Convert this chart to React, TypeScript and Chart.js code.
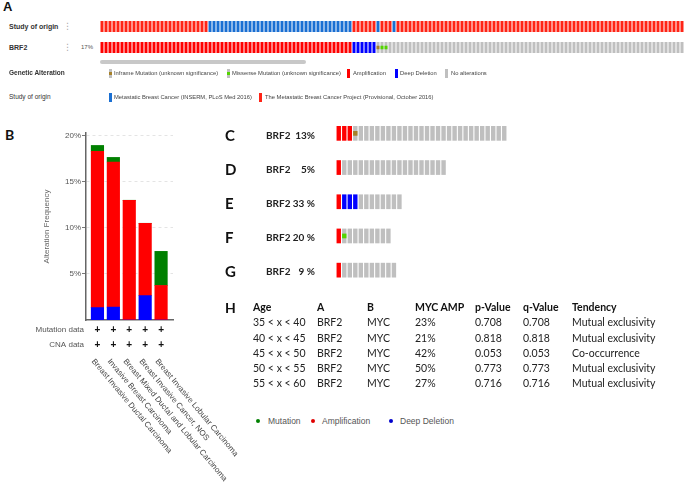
import React, { useEffect, useRef } from 'react';
import { Chart, registerables } from 'chart.js';
Chart.register(...registerables);

// ---------------- Data ----------------
// Panel B: alteration frequency (%) per cancer type
const CANCER_TYPES = [
  'Breast Invasive Ductal Carcinoma',
  'Invasive Breast Carcinoma',
  'Breast Mixed Ductal and Lobular Carcinoma',
  'Breast Invasive Cancer, NOS',
  'Breast Invasive Lobular Carcinoma',
];
const DEEP_DELETION = [1.35, 1.4, 0, 2.65, 0];
const AMPLIFICATION = [16.95, 15.75, 13.0, 7.85, 3.75];
const MUTATION = [0.65, 0.5, 0, 0, 3.7];
const MUTATION_PROFILED = ['+', '+', '+', '+', '+'];
const CNA_PROFILED = ['+', '+', '+', '+', '+'];
const Y_TICK_VALUES = [5, 10, 15, 20];

// Panel A: oncoprint (runs of [type, count])
const STUDY_RUNS: [string, number][] = [
  ['MBCP', 27], ['INSERM', 36], ['MBCP', 6], ['INSERM', 1], ['MBCP', 3], ['INSERM', 1], ['MBCP', 72],
];
const BRF2_RUNS: [string, number][] = [
  ['amp', 63], ['del', 6], ['inframe', 1], ['missense', 2], ['none', 74],
];
const BRF2_ALTERED = '17%';

// Panels C-G
const SUBSET_LETTERS = ['C', 'D', 'E', 'F', 'G'];
const SUBSET_PERCENT = ['13%', '5%', '33 %', '20 %', '9 %'];
const SUBSET_RUNS: [string, number][][] = [
  [['amp', 3], ['inframe', 1], ['none', 27]],
  [['amp', 1], ['none', 19]],
  [['amp', 1], ['del', 3], ['none', 8]],
  [['amp', 1], ['missense', 1], ['none', 8]],
  [['amp', 1], ['none', 10]],
];

// Panel H table
const TABLE_HEADER = ['Age', 'A', 'B', 'MYC AMP', 'p-Value', 'q-Value', 'Tendency'];
const AGE_RANGES = ['35 < x < 40', '40 < x < 45', '45 < x < 50', '50 < x < 55', '55 < x < 60'];
const GENE_A = ['BRF2', 'BRF2', 'BRF2', 'BRF2', 'BRF2'];
const GENE_B = ['MYC', 'MYC', 'MYC', 'MYC', 'MYC'];
const MYC_AMP = ['23%', '21%', '42%', '50%', '27%'];
const P_VALUES = ['0.708', '0.818', '0.053', '0.773', '0.716'];
const Q_VALUES = ['0.708', '0.818', '0.053', '0.773', '0.716'];
const TENDENCY = ['Mutual exclusivity', 'Mutual exclusivity', 'Co-occurrence', 'Mutual exclusivity', 'Mutual exclusivity'];

// ---------------- Styles ----------------
const CELL_COLORS: Record<string, string> = {
  amp: '#ff0000',
  del: '#0000ff',
  none: '#bfbfbf',
  inframe: '#a68028',
  missense: '#53d400',
  INSERM: '#1a6fd2',
  MBCP: '#ff2416',
};
const FULL_TYPES = ['amp', 'del', 'none', 'INSERM', 'MBCP'];
const GLYPH_TYPES = ['inframe', 'missense'];
const ARIAL = 'Arial, "Liberation Sans", sans-serif';
const LATO = 'Lato, "Open Sans", sans-serif';

function expand(runs: [string, number][]): string[] {
  const out: string[] = [];
  runs.forEach(([t, n]) => { for (let i = 0; i < n; i++) out.push(t); });
  return out;
}

function Oncoprint(props: { rows: string[][]; columns: number; fill: number; barPct: number; left: number; top: number; width: number; height: number }) {
  const ref = useRef<HTMLCanvasElement>(null);
  const { rows, columns, fill, barPct, left, top, width, height } = props;
  useEffect(() => {
    const datasets: any[] = [];
    rows.forEach((row, r) => {
      const bg = row.map((c) => (GLYPH_TYPES.includes(c) ? 'none' : c));
      FULL_TYPES.forEach((t) => {
        if (!bg.includes(t)) return;
        datasets.push({
          data: bg.map((c) => (c === t ? [r, r + fill] : null)),
          backgroundColor: CELL_COLORS[t],
          order: 2,
        });
      });
      GLYPH_TYPES.forEach((t) => {
        if (!row.includes(t)) return;
        datasets.push({
          data: row.map((c) => (c === t ? [r + fill * 0.34, r + fill * 0.66] : null)),
          backgroundColor: CELL_COLORS[t],
          order: 1,
        });
      });
    });
    const chart = new Chart(ref.current!, {
      type: 'bar',
      data: { labels: Array.from({ length: columns }, (_, i) => String(i + 1)), datasets },
      options: {
        animation: false,
        responsive: false,
        devicePixelRatio: 1,
        events: [],
        layout: { padding: 0 },
        datasets: { bar: { grouped: false, barPercentage: barPct, categoryPercentage: 1, borderWidth: 0 } } as any,
        plugins: { legend: { display: false }, tooltip: { enabled: false } },
        scales: {
          x: { display: false, offset: true },
          y: { display: false, min: 0, max: rows.length, reverse: true },
        },
      },
    });
    return () => chart.destroy();
  }, []);
  return <canvas ref={ref} width={width} height={height} style={{ position: 'absolute', left, top }} />;
}

function AlterationChart() {
  const ref = useRef<HTMLCanvasElement>(null);
  useEffect(() => {
    const toXY = (arr: number[]) => arr.map((v, i) => ({ x: i, y: v }));
    const profilePlugin = {
      id: 'profileRows',
      afterDraw(chart: any) {
        const { ctx, chartArea } = chart;
        const xs = chart.scales.x;
        const b = chartArea.bottom;
        ctx.save();
        ctx.fillStyle = '#555';
        ctx.font = `8px ${ARIAL}`;
        ctx.textAlign = 'right';
        ctx.textBaseline = 'middle';
        ctx.fillText('Mutation data', chartArea.left - 2, b + 10);
        ctx.fillText('CNA data', chartArea.left - 2, b + 25);
        ctx.fillStyle = '#111';
        ctx.font = `bold 10px ${ARIAL}`;
        ctx.textAlign = 'center';
        CANCER_TYPES.forEach((_, i) => {
          const x = xs.getPixelForValue(i);
          ctx.fillText(MUTATION_PROFILED[i], x, b + 10);
          ctx.fillText(CNA_PROFILED[i], x, b + 25);
        });
        ctx.fillStyle = '#444';
        ctx.font = `8px ${ARIAL}`;
        ctx.textAlign = 'left';
        CANCER_TYPES.forEach((label, i) => {
          const x = xs.getPixelForValue(i);
          ctx.save();
          ctx.translate(x - 4.5, b + 40);
          ctx.rotate((50 * Math.PI) / 180);
          ctx.fillText(label, 0, 0);
          ctx.restore();
        });
        ctx.restore();
      },
    };
    const chart = new Chart(ref.current!, {
      type: 'bar',
      data: {
        datasets: [
          { label: 'Deep Deletion', data: toXY(DEEP_DELETION), backgroundColor: '#0000ff' },
          { label: 'Amplification', data: toXY(AMPLIFICATION), backgroundColor: '#ff0000' },
          { label: 'Mutation', data: toXY(MUTATION), backgroundColor: '#008000' },
        ],
      },
      options: {
        animation: false,
        responsive: false,
        devicePixelRatio: 1,
        events: [],
        layout: { padding: { left: 0, right: 77, top: 13, bottom: 163 } },
        datasets: { bar: { barThickness: 12.5, borderWidth: 0 } } as any,
        plugins: { legend: { display: false }, tooltip: { enabled: false } },
        scales: {
          x: {
            type: 'linear', min: -0.72, max: 4.75, stacked: true, offset: false,
            grid: { display: false }, ticks: { display: false },
            border: { display: true, color: '#666', width: 1.5 },
            afterFit: (s: any) => { s.height = 0; },
          },
          y: {
            stacked: true, min: 0, max: 20.3,
            afterBuildTicks: (s: any) => { s.ticks = Y_TICK_VALUES.map((v) => ({ value: v })); },
            ticks: { color: '#555', font: { size: 8, family: ARIAL }, padding: 1, callback: (v: any) => v + '%' },
            grid: { color: '#e4e4e4', tickColor: '#777', tickLength: 4, lineWidth: 1 },
            border: { display: true, color: '#666', width: 1.5, dash: [3, 3] },
            title: { display: true, text: 'Alteration Frequency', color: '#666', font: { size: 8, family: ARIAL }, padding: { top: 42, bottom: 0 } },
            afterFit: (s: any) => { s.width = 86; },
          },
        } as any,
      },
      plugins: [profilePlugin],
    });
    return () => chart.destroy();
  }, []);
  return <canvas ref={ref} width={250} height={363} style={{ position: 'absolute', left: 0, top: 120 }} />;
}

function T(p: { x: number; y: number; children: any; size?: number; weight?: number | string; color?: string; family?: string; align?: 'left' | 'right' }) {
  const size = p.size ?? 8;
  const lh = Math.round(size * 1.5);
  const style: any = {
    position: 'absolute', top: p.y - lh / 2, height: lh, lineHeight: lh + 'px', fontSize: size,
    fontWeight: p.weight ?? 400, color: p.color ?? '#333', whiteSpace: 'nowrap', fontFamily: p.family ?? ARIAL,
  };
  if (p.align === 'right') style.right = 685 - p.x; else style.left = p.x;
  return <div style={style}>{p.children}</div>;
}

function Swatch(p: { x: number; y: number; type: string }) {
  const glyph = GLYPH_TYPES.includes(p.type);
  return (
    <div style={{ position: 'absolute', left: p.x, top: p.y - 4.5, width: 3, height: 9, background: glyph ? CELL_COLORS.none : CELL_COLORS[p.type] }}>
      {glyph && <div style={{ position: 'absolute', left: 0, top: 3, width: 3, height: 3, background: CELL_COLORS[p.type] }} />}
    </div>
  );
}

function Dot(p: { x: number; y: number; color: string }) {
  return <div style={{ position: 'absolute', left: p.x - 2.2, top: p.y - 2.2, width: 4.4, height: 4.4, borderRadius: '50%', background: p.color }} />;
}

export default function App() {
  const studyRow = expand(STUDY_RUNS);
  const brf2Row = expand(BRF2_RUNS);
  const subsetRows = SUBSET_RUNS.map(expand);
  const subsetCols = Math.max(...subsetRows.map((r) => r.length));
  const subsetRowY = [135, 169, 203, 237, 271];
  const tableCols = [253, 317, 367, 415, 475, 523, 572];
  const tableRowY = [307, 322, 337.5, 352.5, 368, 383];
  const tableBody = AGE_RANGES.map((_, i) => [AGE_RANGES[i], GENE_A[i], GENE_B[i], MYC_AMP[i], P_VALUES[i], Q_VALUES[i], TENDENCY[i]]);
  return (
    <div style={{ position: 'absolute', left: 0, top: 0, width: 685, height: 483, overflow: 'hidden', background: '#fff', fontFamily: ARIAL }}>
      {/* Panel A */}
      <T x={3} y={7} size={13} weight="bold" color="#111">A</T>
      <T x={9} y={26} size={7} weight="bold" color="#333">Study of origin</T>
      <T x={9} y={47} size={7} weight="bold" color="#333">BRF2</T>
      <T x={63} y={26} size={9} color="#aaa" family="DejaVu Sans">⋮</T>
      <T x={63} y={47} size={9} color="#aaa" family="DejaVu Sans">⋮</T>
      <T x={81} y={47} size={6} color="#555">{BRF2_ALTERED}</T>
      <Oncoprint rows={[studyRow, brf2Row]} columns={studyRow.length} fill={11 / 21} barPct={0.75} left={100} top={21} width={584} height={42} />
      <div style={{ position: 'absolute', left: 100, top: 59.5, width: 206, height: 4, borderRadius: 2, background: '#c8c8c8' }} />
      <T x={9} y={73} size={6.5} weight="bold" color="#333">Genetic Alteration</T>
      <Swatch x={108.5} y={73} type="inframe" />
      <T x={114} y={73} size={5.8} color="#444">Inframe Mutation (unknown significance)</T>
      <Swatch x={226.5} y={73} type="missense" />
      <T x={232} y={73} size={5.8} color="#444">Missense Mutation (unknown significance)</T>
      <Swatch x={346.5} y={73} type="amp" />
      <T x={353} y={73} size={5.8} color="#444">Amplification</T>
      <Swatch x={394.5} y={73} type="del" />
      <T x={400} y={73} size={5.8} color="#444">Deep Deletion</T>
      <Swatch x={444.5} y={73} type="none" />
      <T x={451} y={73} size={5.8} color="#444">No alterations</T>
      <T x={9} y={97} size={6.5} color="#333">Study of origin</T>
      <Swatch x={108.5} y={97} type="INSERM" />
      <T x={114} y={97} size={5.8} color="#444">Metastatic Breast Cancer (INSERM, PLoS Med 2016)</T>
      <Swatch x={258.5} y={97} type="MBCP" />
      <T x={265} y={97} size={5.8} color="#444">The Metastatic Breast Cancer Project (Provisional, October 2016)</T>

      {/* Panel B */}
      <T x={5} y={134} size={14} weight="bold" color="#111" family={LATO}>B</T>
      <AlterationChart />
      <Dot x={258} y={421} color="#008000" />
      <T x={268} y={421} size={8.5} color="#555">Mutation</T>
      <Dot x={313} y={421} color="#e00000" />
      <T x={322} y={421} size={8.5} color="#555">Amplification</T>
      <Dot x={391} y={421} color="#0000cc" />
      <T x={400} y={421} size={8.5} color="#555">Deep Deletion</T>

      {/* Panels C-G */}
      {SUBSET_LETTERS.map((l, i) => (
        <React.Fragment key={l}>
          <T x={225} y={subsetRowY[i]} size={15} weight="bold" color="#111" family={LATO}>{l}</T>
          <T x={266} y={subsetRowY[i]} size={10} weight="bold" color="#222" family={LATO}>BRF2</T>
          <T x={315} y={subsetRowY[i]} size={10} weight="bold" color="#222" family={LATO} align="right">{SUBSET_PERCENT[i]}</T>
        </React.Fragment>
      ))}
      <Oncoprint rows={subsetRows} columns={subsetCols} fill={0.43} barPct={0.8} left={336} top={126} width={171} height={171} />

      {/* Panel H */}
      <T x={225} y={307} size={14} weight="bold" color="#111" family={LATO}>H</T>
      {TABLE_HEADER.map((h, c) => (
        <T key={'h' + c} x={tableCols[c]} y={tableRowY[0]} size={10.5} weight="bold" color="#111" family={LATO}>{h}</T>
      ))}
      {tableBody.map((row, r) =>
        row.map((v, c) => (
          <T key={r + '-' + c} x={tableCols[c]} y={tableRowY[r + 1]} size={10.5} color="#222" family={LATO}>{v}</T>
        ))
      )}
    </div>
  );
}
